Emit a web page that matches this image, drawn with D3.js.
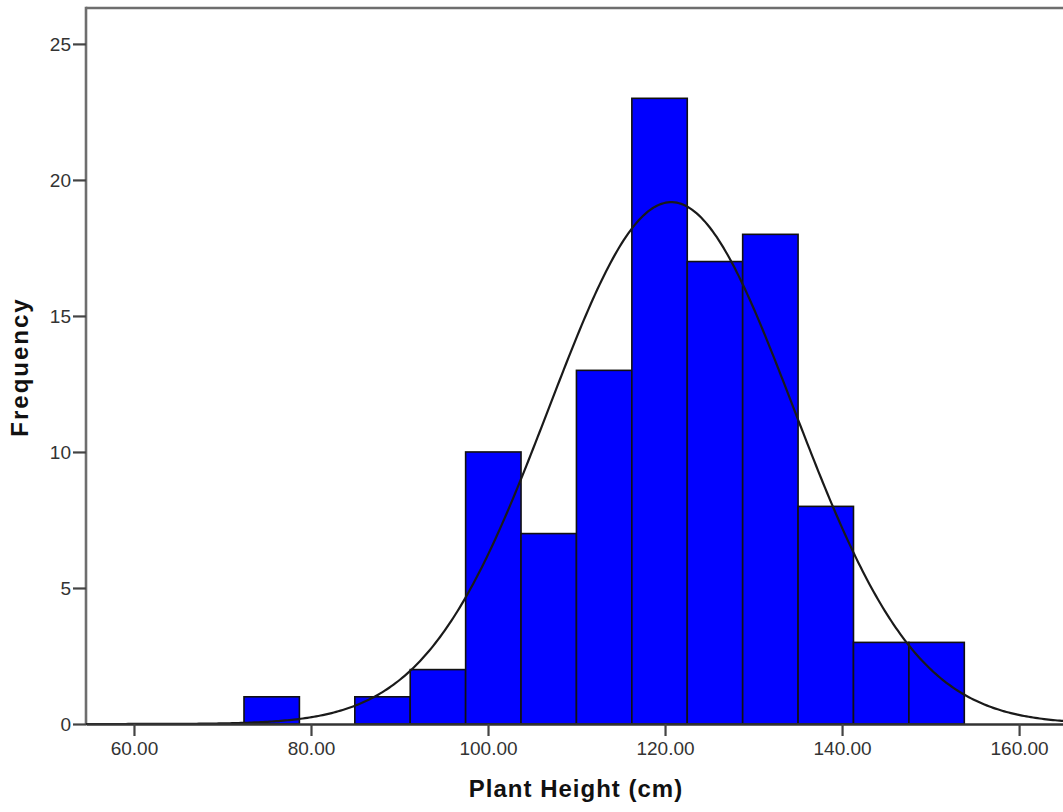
<!DOCTYPE html>
<html>
<head>
<meta charset="utf-8">
<script src="https://cdn.jsdelivr.net/npm/d3@7"></script>
<style>
  html, body { margin: 0; padding: 0; background: #fff; }
  svg { display: block; }
  text { font-family: "Liberation Sans", Arial, sans-serif; }
</style>
</head>
<body>
<svg id="chart" width="1063" height="812"></svg>
<script>
// Histogram of plant heights (cm): bin lower edges and their counts
const binEdges = [72.43, 78.69, 84.95, 91.21, 97.47, 103.73, 109.99, 116.25, 122.51, 128.77, 135.03, 141.29, 147.55, 153.81];
const counts   = [1, 0, 1, 2, 10, 7, 13, 23, 17, 18, 8, 3, 3];

// Fitted normal curve parameters
const fitMean = 120.7;
const fitSD = 13.8;

// Axis ticks
const xTicks = [60, 80, 100, 120, 140, 160];
const yTicks = [0, 5, 10, 15, 20, 25];

const xLabel = "Plant Height (cm)";
const yLabel = "Frequency";

const svg = d3.select("#chart");

const plot = { left: 86, right: 1066, top: 8, bottom: 724 };

const x = d3.scaleLinear().domain([54.58, 165.3]).range([plot.left, plot.right]);
const y = d3.scaleLinear().domain([0, 26.32]).range([plot.bottom, plot.top]);

const bins = counts.map((c, i) => ({ x0: binEdges[i], x1: binEdges[i + 1], count: c }));
const total = d3.sum(counts);
const binWidth = binEdges[1] - binEdges[0];

// Frame (top and left) in gray
svg.append("line")
  .attr("x1", plot.left).attr("x2", plot.right)
  .attr("y1", plot.top).attr("y2", plot.top)
  .attr("stroke", "#6e6e6e").attr("stroke-width", 2.6);
svg.append("line")
  .attr("x1", plot.left).attr("x2", plot.left)
  .attr("y1", plot.top - 1.3).attr("y2", plot.bottom)
  .attr("stroke", "#6e6e6e").attr("stroke-width", 2.6);

// Bars
svg.append("g")
  .selectAll("rect")
  .data(bins.filter(d => d.count > 0))
  .join("rect")
  .attr("x", d => x(d.x0))
  .attr("y", d => y(d.count))
  .attr("width", d => x(d.x1) - x(d.x0))
  .attr("height", d => y(0) - y(d.count))
  .attr("fill", "#0000ff")
  .attr("stroke", "#111")
  .attr("stroke-width", 1.6);

// Normal curve scaled to the histogram's counts
const normalPdf = v => Math.exp(-0.5 * Math.pow((v - fitMean) / fitSD, 2)) / (fitSD * Math.sqrt(2 * Math.PI));
const curvePts = d3.range(x.domain()[0], x.domain()[1] + 0.01, 0.25)
  .map(v => [v, normalPdf(v) * total * binWidth]);

svg.append("path")
  .datum(curvePts)
  .attr("fill", "none")
  .attr("stroke", "#1a1a1a")
  .attr("stroke-width", 2.2)
  .attr("d", d3.line().x(d => x(d[0])).y(d => y(d[1])));

// X axis
const xAxis = svg.append("g")
  .attr("transform", `translate(0,${plot.bottom})`)
  .call(d3.axisBottom(x).tickValues(xTicks).tickFormat(d3.format(".2f")).tickSize(12).tickSizeOuter(0).tickPadding(6));
xAxis.select(".domain").attr("stroke", "#333").attr("stroke-width", 2.6);
xAxis.selectAll(".tick line").attr("stroke", "#444").attr("stroke-width", 2.2);
xAxis.selectAll(".tick text")
  .attr("fill", "#333").style("font-size", "19px").style("font-family", "'Liberation Sans', Arial, sans-serif");

// Y axis
const yAxis = svg.append("g")
  .attr("transform", `translate(${plot.left},0)`)
  .call(d3.axisLeft(y).tickValues(yTicks).tickFormat(d3.format("d")).tickSize(13).tickSizeOuter(0).tickPadding(2));
yAxis.select(".domain").remove();
yAxis.selectAll(".tick line").attr("stroke", "#444").attr("stroke-width", 2.2);
yAxis.selectAll(".tick text")
  .attr("fill", "#333").style("font-size", "19px").style("font-family", "'Liberation Sans', Arial, sans-serif");

// Axis titles
svg.append("text")
  .attr("x", 576).attr("y", 797)
  .attr("text-anchor", "middle")
  .attr("fill", "#111")
  .style("font-size", "24px").style("font-weight", "bold")
  .style("letter-spacing", "1px")
  .text(xLabel);

svg.append("text")
  .attr("transform", "translate(28,367) rotate(-90)")
  .attr("text-anchor", "middle")
  .attr("fill", "#111")
  .style("font-size", "24px").style("font-weight", "bold")
  .style("letter-spacing", "2px")
  .text(yLabel);
</script>
</body>
</html>
